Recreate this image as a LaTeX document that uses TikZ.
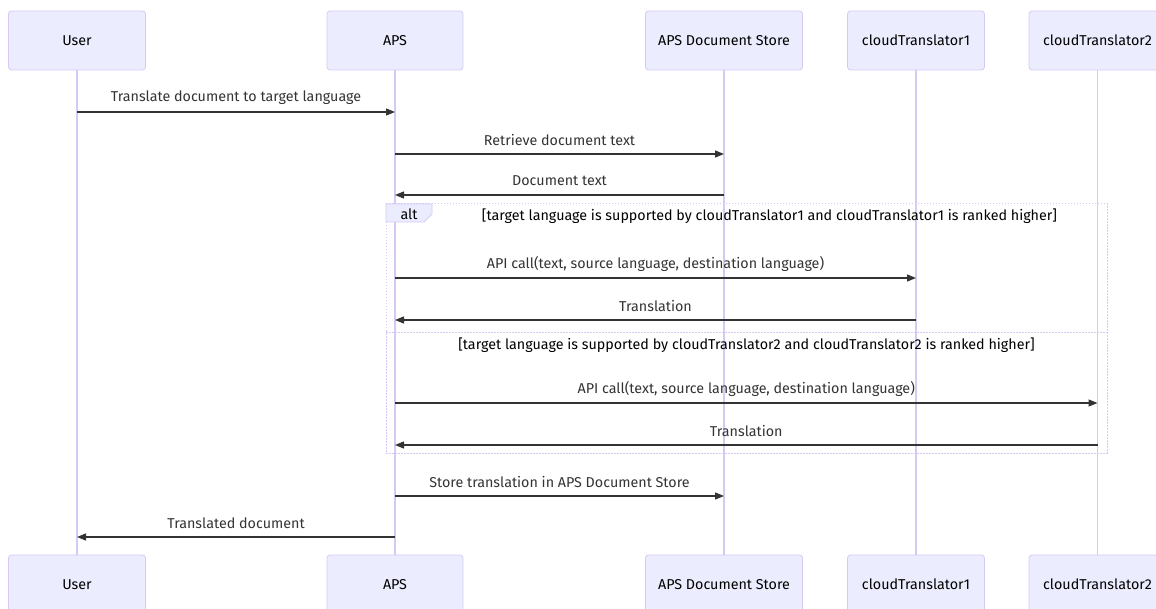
\documentclass[tikz,border=0pt]{standalone}
\usepackage{fontspec}
\setmainfont{Fira Sans}
\usetikzlibrary{arrows.meta}
\definecolor{actfill}{HTML}{ECECFF}
\definecolor{actline}{RGB}{214,202,245}
\definecolor{msgcol}{HTML}{333333}
\tikzset{
  actorbox/.style={draw=actline, fill=actfill, line width=0.8pt, rounded corners=3pt,
    minimum height=59pt, inner sep=0pt, font=\fontsize{14.3}{16}\selectfont, text=black},
  lifeline/.style={draw=actline, line width=1.2pt},
  msgarrow/.style={draw=msgcol, line width=1.3pt, -{Triangle[length=9pt,width=7pt]}},
  msglabel/.style={font=\fontsize{14.3}{16}\selectfont, text=msgcol, inner sep=0pt},
  altframe/.style={draw=actline, line width=1pt, dash pattern=on 1.5pt off 1.5pt},
  alttab/.style={draw=actline, fill=actfill, line width=0.8pt},
}
\begin{document}
\begin{tikzpicture}[x=1pt,y=-1pt]
\useasboundingbox (0,0) rectangle (1156,609);
\clip (0,0) rectangle (1156,609);

% participants, top row
\node[actorbox, minimum width=137pt] (userT)  at (77,40.5)    {User};
\node[actorbox, minimum width=136pt] (apsT)   at (395,40.5)   {APS};
\node[actorbox, minimum width=157pt] (storeT) at (724,40.5)   {APS Document Store};
\node[actorbox, minimum width=137pt] (ctaT)   at (916,40.5)   {cloudTranslator1};
\node[actorbox, minimum width=137pt] (ctbT)   at (1097.5,40.5){cloudTranslator2};

% participants, bottom row
\node[actorbox, minimum width=137pt] (userB)  at (77,584.5)    {User};
\node[actorbox, minimum width=136pt] (apsB)   at (395,584.5)   {APS};
\node[actorbox, minimum width=157pt] (storeB) at (724,584.5)   {APS Document Store};
\node[actorbox, minimum width=137pt] (ctaB)   at (916,584.5)   {cloudTranslator1};
\node[actorbox, minimum width=137pt] (ctbB)   at (1097.5,584.5){cloudTranslator2};

% lifelines
\foreach \p in {user,aps,store,cta,ctb}
  \draw[lifeline] (\p T.south) -- (\p B.north);

% alt frame with its two branches
\draw[altframe] (386,204) rectangle (1107,453);
\draw[altframe] (386,333) -- (1107,333);
\draw[alttab] (386,204) -- (432,204) -- (432,214) -- (424,222) -- (386,222) -- cycle;
\node[msglabel, text=black] (altlbl) at (409,214) {alt};
\node[msglabel, text=black] (condA) at (769.5,216) {[target language is supported by cloudTranslator1 and cloudTranslator1 is ranked higher]};
\node[msglabel, text=black] (condB) at (746.5,345) {[target language is supported by cloudTranslator2 and cloudTranslator2 is ranked higher]};

% messages
\draw[msgarrow] (userT.south |- 0,112) -- node[msglabel, yshift=14pt] {Translate document to target language} (apsT.south |- 0,112);
\draw[msgarrow] (apsT.south |- 0,154) -- node[msglabel, yshift=14pt] {Retrieve document text} (storeT.south |- 0,154);
\draw[msgarrow] (storeT.south |- 0,195) -- node[msglabel, yshift=14pt] {Document text} (apsT.south |- 0,195);
\draw[msgarrow] (apsT.south |- 0,278) -- node[msglabel, yshift=14pt] {API call(text, source language, destination language)} (ctaT.south |- 0,278);
\draw[msgarrow] (ctaT.south |- 0,320) -- node[msglabel, yshift=14pt] {Translation} (apsT.south |- 0,320);
\draw[msgarrow] (apsT.south |- 0,403) -- node[msglabel, yshift=14pt] {API call(text, source language, destination language)} (ctbT.south |- 0,403);
\draw[msgarrow] (ctbT.south |- 0,445) -- node[msglabel, yshift=14pt] {Translation} (apsT.south |- 0,445);
\draw[msgarrow] (apsT.south |- 0,496) -- node[msglabel, yshift=14pt] {Store translation in APS Document Store} (storeT.south |- 0,496);
\draw[msgarrow] (apsT.south |- 0,537) -- node[msglabel, yshift=14pt] {Translated document} (userT.south |- 0,537);
\end{tikzpicture}
\end{document}
